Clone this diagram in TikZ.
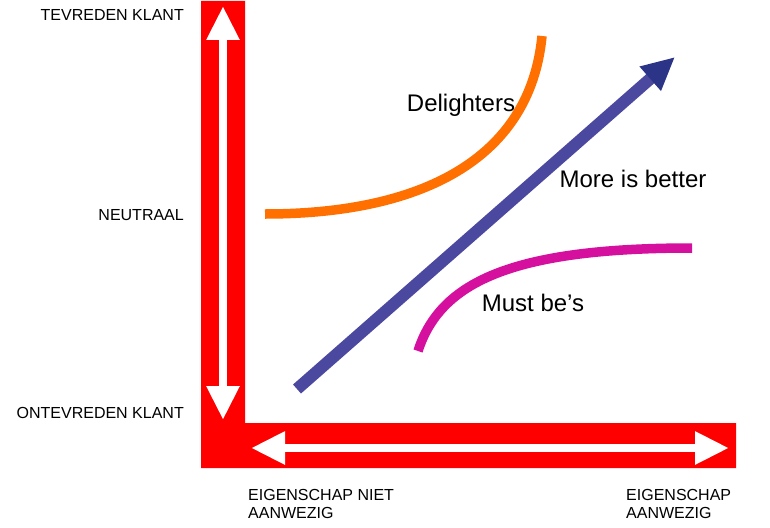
\documentclass[tikz,border=0pt]{standalone}
\usepackage{fontspec}
\setmainfont{Liberation Sans}
\usetikzlibrary{arrows.meta}
\definecolor{axisred}{RGB}{255,0,0}
\definecolor{delorange}{RGB}{255,112,0}
\definecolor{mustpink}{RGB}{214,16,158}
\definecolor{shaftblue}{RGB}{75,72,160}
\definecolor{headblue}{RGB}{43,52,135}
\tikzset{
  smalllbl/.style={font=\fontsize{16}{18.5}\selectfont, inner sep=0pt, text=black},
  biglbl/.style={font=\fontsize{24}{28}\selectfont, inner sep=0pt, text=black},
  whitearrow/.style={draw=white, line width=8.5pt,
     {Triangle[length=34pt,width=31pt,color=white]}-{Triangle[length=34pt,width=31pt,color=white]}},
  curveline/.style={line width=9.5pt, line cap=butt},
}
\begin{document}
\begin{tikzpicture}[x=1pt,y=-1pt]
\useasboundingbox (0,0) rectangle (770,527);
% red L-shaped axes
\fill[axisred] (201,1) -- (245,1) -- (245,423) -- (736,423) -- (736,468) -- (201,468) -- cycle;
% white double arrows
\coordinate (vtop) at (223,6);
\coordinate (vbot) at (223,420);
\coordinate (hleft) at (251,448);
\coordinate (hright) at (729,448);
\draw[whitearrow] (vtop) -- (vbot);
\draw[whitearrow] (hleft) -- (hright);
% axis labels
\node[smalllbl, anchor=base east] (tevreden) at (184,21) {TEVREDEN KLANT};
\node[smalllbl, anchor=base east] (neutraal) at (184,220) {NEUTRAAL};
\node[smalllbl, anchor=base east] (ontevreden) at (184,418) {ONTEVREDEN KLANT};
\node[smalllbl, anchor=north west, align=left] (niet) at (248,489) {EIGENSCHAP NIET\\AANWEZIG};
\node[smalllbl, anchor=north west, align=left] (wel) at (626,489) {EIGENSCHAP\\AANWEZIG};
% curves
\coordinate (d0) at (265,214);
\coordinate (d1) at (542,36);
\draw[curveline, delorange] (d0) .. controls (420,214) and (530,160) .. (d1);
\coordinate (m0) at (418,351);
\coordinate (m1) at (692,248);
\draw[curveline, mustpink] (m0) .. controls (440,283) and (510,248) .. (m1);
% blue arrow
\coordinate (b0) at (297,389);
\coordinate (b1) at (675,57);
\draw[shaftblue, line width=12pt, line cap=butt,
  -{Triangle[length=33pt,width=30pt,color=headblue]}] (b0) -- (b1);
% labels
\node[biglbl, anchor=base] (delighters) at (461,111) {Delighters};
\node[biglbl, anchor=base] (more) at (633,187) {More is better};
\node[biglbl, anchor=base] (must) at (533,311) {Must be’s};
\end{tikzpicture}
\end{document}
